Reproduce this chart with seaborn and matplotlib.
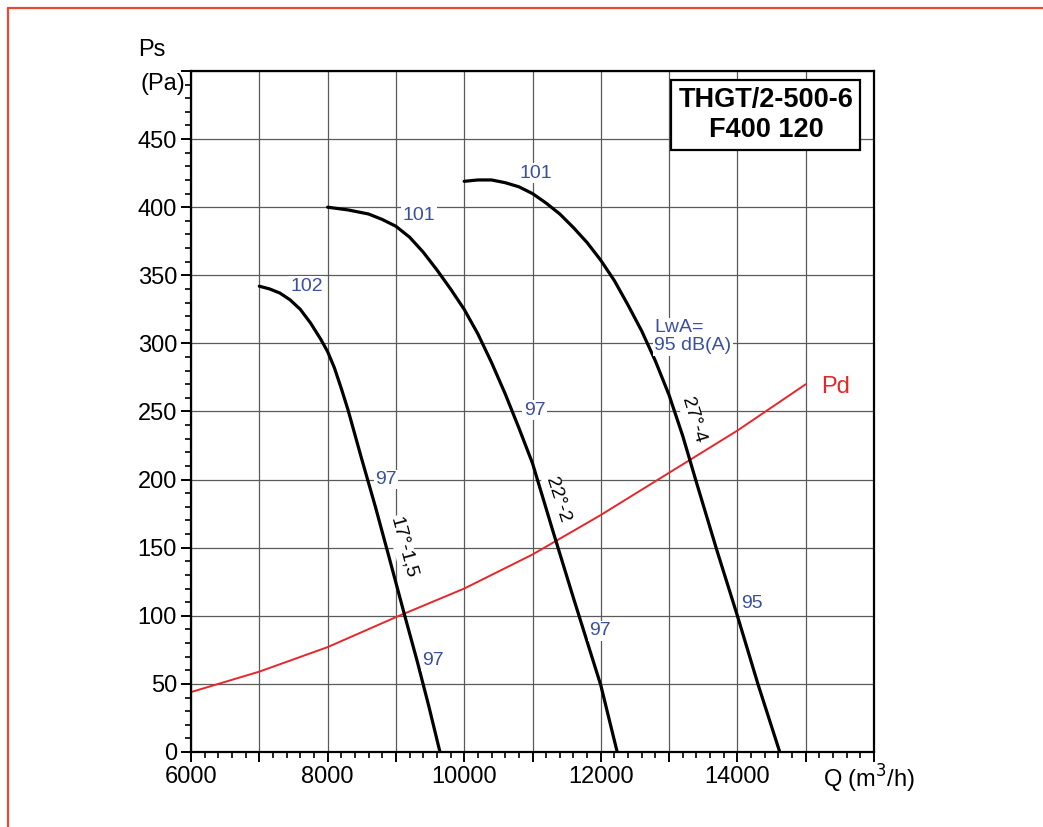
import pandas as pd
import numpy as np
import matplotlib.pyplot as plt
import seaborn as sns
from matplotlib.lines import Line2D

# fan curves (Q m3/h, Ps Pa)
q_17 = [7000, 7150, 7300, 7450, 7600, 7750, 7900, 8000, 8100, 8200, 8300, 8500, 8700, 8900, 9130, 9310, 9480, 9645]
ps_17 = [342, 340, 337, 332, 325, 315, 303, 294, 282, 267, 251, 215, 180, 143, 100, 67, 34, 0]

q_22 = [8000, 8300, 8600, 8800, 9000, 9200, 9400, 9600, 9800, 10000, 10200, 10400, 10600, 10800, 11000, 11300, 11600, 12000, 12240]
ps_22 = [400, 398, 395, 391, 386, 378, 367, 354, 340, 325, 307, 286, 263, 238, 212, 162, 113, 49, 0]

q_27 = [10000, 10200, 10400, 10600, 10800, 11000, 11200, 11400, 11600, 11800, 12000, 12200, 12400, 12600, 12800, 13000, 13200, 13400, 13700, 14000, 14300, 14620]
ps_27 = [419, 420, 420, 418, 415, 410, 403, 395, 385, 374, 361, 346, 328, 309, 287, 262, 232, 198, 148, 100, 50, 0]

# dynamic pressure
q_pd = [6000, 7000, 8000, 9000, 10000, 11000, 12000, 13000, 14000, 15000]
pd_vals = [44, 59, 77, 99, 120, 145, 174, 205, 236, 270]

# noise labels: text, Q, Ps
noise_txt = ["102", "101", "101", "97", "97", "97", "97", "95"]
noise_q = [7690, 9340, 11050, 8855, 9540, 11030, 11990, 14215]
noise_ps = [342, 394, 425, 200, 67, 251, 89, 109]

# blade angle labels: text, Q, Ps, rotation
angle_txt = ["17°-1,5", "22°-2", "27°-4"]
angle_q = [9110, 11373, 13350]
angle_ps = [150, 185, 244]
angle_rot = [-75, -72, -73]

curves = pd.concat([
    pd.DataFrame({"Q": q_17, "Ps": ps_17, "curve": "17"}),
    pd.DataFrame({"Q": q_22, "Ps": ps_22, "curve": "22"}),
    pd.DataFrame({"Q": q_27, "Ps": ps_27, "curve": "27"}),
])
pd_df = pd.DataFrame({"Q": q_pd, "Pd": pd_vals})

sns.set_style("white")
plt.rcParams["font.family"] = ["Liberation Sans", "DejaVu Sans"]
plt.rcParams["text.color"] = "black"
plt.rcParams["xtick.color"] = "black"
plt.rcParams["ytick.color"] = "black"

blue = "#3b4fa0"
red = "#e8262a"

fig = plt.figure(figsize=(10.43, 8.27), dpi=100)
ax = fig.add_axes([191 / 1043, 75 / 827, 683 / 1043, 681 / 827])

ax.set_xlim(6000, 16000)
ax.set_ylim(0, 500)
ax.set_xticks(range(6000, 16001, 1000))
ax.set_yticks(range(0, 501, 50))
ax.grid(True, color="#5a5a5a", linewidth=0.9)
ax.set_axisbelow(True)

sns.lineplot(data=pd_df, x="Q", y="Pd", color=red, linewidth=1.4, sort=False, ax=ax)
sns.lineplot(data=curves, x="Q", y="Ps", units="curve", estimator=None, color="black",
             linewidth=2.3, sort=False, ax=ax)

# major tick labels: only every 2000 on x, hide 500 on y
ax.set_xticklabels([str(v) if v % 2000 == 0 and v < 16000 else "" for v in range(6000, 16001, 1000)])
ax.set_yticklabels([str(v) if v < 500 else "" for v in range(0, 501, 50)])
ax.set_xticks(np.arange(6000, 16001, 200), minor=True)
ax.set_yticks(np.arange(0, 501, 10), minor=True)
ax.tick_params(which="major", direction="out", length=7, width=1.4, labelsize=17, colors="black", pad=3)
ax.tick_params(which="minor", direction="out", length=4, width=1.2, color="black")
ax.tick_params(axis="x", which="both", bottom=True)
ax.tick_params(axis="y", which="both", left=True)
ax.set_xlabel("")
ax.set_ylabel("")
for s in ax.spines.values():
    s.set_color("black")
    s.set_linewidth(1.6)

box = dict(facecolor="white", edgecolor="none", pad=1)
for t, x, y in zip(noise_txt, noise_q, noise_ps):
    ax.text(x, y, t, color=blue, fontsize=14, ha="center", va="center", bbox=box)
for t, x, y, r in zip(angle_txt, angle_q, angle_ps, angle_rot):
    ax.text(x, y, t, color="black", fontsize=14, ha="center", va="center", rotation=r,
            rotation_mode="anchor", bbox=box)

ax.text(12780, 305, "LwA=\n95 dB(A)", color=blue, fontsize=14, ha="left", va="center",
        linespacing=1.1, bbox=box)
ax.text(15230, 268, "Pd", color=red, fontsize=17, ha="left", va="center")

ax.text(14418, 468, "THGT/2-500-6\nF400 120", fontsize=19.5, fontweight="bold", ha="center",
        va="center", linespacing=1.2,
        bbox=dict(facecolor="white", edgecolor="black", linewidth=1.6, pad=5))

ax.text(-0.057, 1.031, "Ps", transform=ax.transAxes, fontsize=17, ha="center", va="center")
ax.text(-0.008, 0.981, "(Pa)", transform=ax.transAxes, fontsize=17, ha="right", va="center")
ax.text(0.926, -0.040, "Q (m$^3$/h)", transform=ax.transAxes, fontsize=17, ha="left", va="center")

if ax.get_legend() is not None:
    ax.get_legend().remove()

# red page frame (top and left edge)
fig.add_artist(Line2D([8 / 1043, 1.0], [1 - 8 / 827, 1 - 8 / 827], color="#ea4a32", linewidth=1.6))
fig.add_artist(Line2D([8 / 1043, 8 / 1043], [0.0, 1 - 8 / 827], color="#ea4a32", linewidth=1.6))

fig.savefig("out.png", dpi=100)
